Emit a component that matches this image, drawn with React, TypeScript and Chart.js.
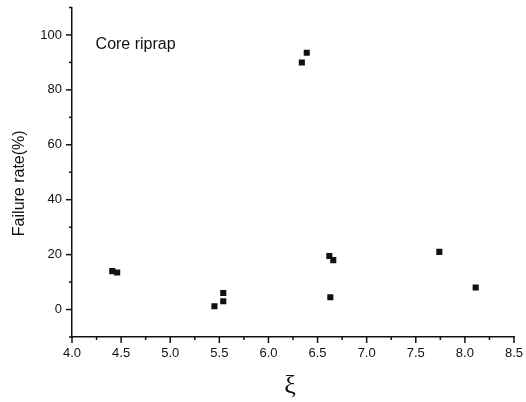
import React, { useEffect, useRef } from 'react';
import { Chart, registerables } from 'chart.js';

Chart.register(...registerables);

// ---- data ----
const xiValues = [4.41, 4.46, 5.45, 5.54, 5.54, 6.34, 6.39, 6.62, 6.66, 6.63, 7.74, 8.11];
const failureRates = [14, 13.5, 1.2, 3, 6, 90, 93.5, 19.5, 18, 4.5, 21, 8];
const xRange = [4, 8.5];
const yRange = [-10, 110];
const xStep = 0.25; // minor step, labels every 0.5
const yStep = 10; // minor step, labels every 20
const seriesLabel = 'Core riprap';
const labelAnchor = [4.24, 95]; // data coords of the in-plot label
const xTitle = 'ξ';
const yTitle = 'Failure rate(%)';

const INK = '#111';
const SANS = '"Liberation Sans", Arial, Helvetica, sans-serif';

const isXMajor = (v: number) => Math.abs(v * 2 - Math.round(v * 2)) < 1e-6;
const isYMajor = (v: number) => Math.abs(v / 20 - Math.round(v / 20)) < 1e-6;

const decor = {
  id: 'decor',
  afterDraw(chart: any) {
    const { ctx, chartArea, scales } = chart;
    const xs = scales.x;
    const ys = scales.y;
    ctx.save();
    ctx.strokeStyle = INK;
    ctx.lineWidth = 1.5;
    xs.ticks.forEach((t: any) => {
      const px = xs.getPixelForValue(t.value);
      ctx.beginPath();
      ctx.moveTo(px, chartArea.bottom);
      ctx.lineTo(px, chartArea.bottom + (isXMajor(t.value) ? 6 : 3));
      ctx.stroke();
    });
    ys.ticks.forEach((t: any) => {
      const py = ys.getPixelForValue(t.value);
      ctx.beginPath();
      ctx.moveTo(chartArea.left, py);
      ctx.lineTo(chartArea.left - (isYMajor(t.value) ? 6 : 3), py);
      ctx.stroke();
    });

    ctx.fillStyle = INK;
    ctx.font = `16px ${SANS}`;
    ctx.textAlign = 'left';
    ctx.textBaseline = 'alphabetic';
    ctx.fillText(seriesLabel, xs.getPixelForValue(labelAnchor[0]), ys.getPixelForValue(labelAnchor[1]));

    // y title
    ctx.save();
    ctx.translate(chartArea.left - 52, (chartArea.top + chartArea.bottom) / 2 + 11);
    ctx.rotate(-Math.PI / 2);
    ctx.textAlign = 'center';
    ctx.textBaseline = 'middle';
    ctx.font = `16px ${SANS}`;
    ctx.fillText(yTitle, 0, 0);
    ctx.restore();

    // x title
    ctx.textAlign = 'center';
    ctx.textBaseline = 'middle';
    ctx.font = '26px "Liberation Serif", "DejaVu Serif", serif';
    ctx.fillText(xTitle, (chartArea.left + chartArea.right) / 2 - 3, chartArea.bottom + 49);
    ctx.restore();
  },
};

export default function App() {
  const ref = useRef<HTMLCanvasElement | null>(null);

  useEffect(() => {
    if (!ref.current) return;
    const chart = new Chart(ref.current, {
      type: 'scatter',
      data: {
        datasets: [
          {
            label: seriesLabel,
            data: xiValues.map((x, i) => ({ x, y: failureRates[i] })),
            pointStyle: 'rect',
            pointRadius: 4.3,
            pointHoverRadius: 4.3,
            backgroundColor: INK,
            borderColor: INK,
            borderWidth: 0,
          },
        ],
      },
      options: {
        responsive: false,
        animation: false,
        layout: { padding: { top: 7.5, right: 12, left: 0, bottom: 0 } },
        plugins: { legend: { display: false }, tooltip: { enabled: false } },
        scales: {
          x: {
            type: 'linear',
            min: xRange[0],
            max: xRange[1],
            grid: { display: false, drawTicks: false },
            border: { display: true, color: INK, width: 1.5 },
            ticks: {
              stepSize: xStep,
              autoSkip: false,
              maxRotation: 0,
              padding: 9,
              color: INK,
              font: { family: SANS, size: 13 },
              callback: (v: any) => (isXMajor(Number(v)) ? Number(v).toFixed(1) : ''),
            },
            afterFit: (s: any) => {
              s.height = 65;
              s.paddingLeft = 0;
              s.paddingRight = 0;
            },
          },
          y: {
            type: 'linear',
            min: yRange[0],
            max: yRange[1],
            grid: { display: false, drawTicks: false },
            border: { display: true, color: INK, width: 1.5 },
            ticks: {
              stepSize: yStep,
              autoSkip: false,
              padding: 10,
              color: INK,
              font: { family: SANS, size: 13 },
              callback: (v: any) => {
                const n = Number(v);
                return isYMajor(n) && n >= 0 && n <= 100 ? String(Math.round(n)) : '';
              },
            },
            afterFit: (s: any) => {
              s.width = 72;
              s.paddingTop = 0;
              s.paddingBottom = 0;
            },
          },
        },
      },
      plugins: [decor],
    });
    return () => chart.destroy();
  }, []);

  return (
    <div style={{ position: 'absolute', left: 0, top: 0, width: 526, height: 402, background: '#fff' }}>
      <canvas ref={ref} width={526} height={402} />
    </div>
  );
}
